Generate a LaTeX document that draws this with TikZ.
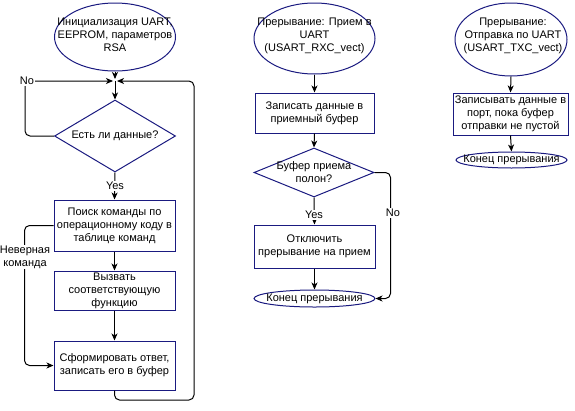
\documentclass[tikz,border=0pt]{standalone}
\usepackage{fontspec}
\setmainfont{Liberation Sans}
\usetikzlibrary{shapes.geometric,arrows.meta}
\definecolor{nav}{RGB}{26,26,128}
\begin{document}
\begin{tikzpicture}[x=1pt,y=-1pt,font=\fontsize{11}{13}\selectfont,
  box/.style={draw=nav,line width=1pt,rectangle,align=center,inner sep=0pt},
  ell/.style={draw=nav,line width=1pt,ellipse,inner sep=0pt},
  dia/.style={draw=nav,line width=1pt,diamond,inner sep=0pt},
  txt/.style={align=center,inner sep=0pt},
  lbl/.style={fill=white,inner sep=1pt,align=center},
  arr/.style={draw=black,line width=1pt,rounded corners=5pt,-{Stealth[length=7pt,width=6pt,inset=2pt]}}]
\useasboundingbox (0,0) rectangle (575,410);
% column 1
\node[ell,minimum width=121pt,minimum height=68pt] (e1) at (115,37) {};
\node[txt] (t1) at (115,35) {Инициализация UART,\\EEPROM, параметров\\RSA};
\coordinate (J) at (115,81);
\node[dia,minimum width=121pt,minimum height=72pt] (d1) at (115,136) {};
\node[txt] (t2) at (115,136) {Есть ли данные?};
\node[box,minimum width=121pt,minimum height=51pt] (b1) at (114.5,225.5) {Поиск команды по\\операционному коду в\\таблице команд};
\node[box,minimum width=121pt,minimum height=39pt] (b2) at (114.5,290.5) {Вызвать\\соответствующую\\функцию};
\node[box,minimum width=121pt,minimum height=49pt] (b3) at (114.5,365.5) {Сформировать ответ,\\записать его в буфер};
\coordinate (R) at (194,400);
\draw[arr,shorten >=2pt] (e1.south) -- (J);
\draw[arr] (J) -- (d1.north);
\draw[arr] (d1.south) -- (b1.north);
\node[lbl] (yes1) at (115,186) {Yes};
\draw[arr,shorten >=2pt] (d1.west) -- ++(-29,0) |- (J);
\node[lbl] (no1) at (27,81) {No};
\draw[arr] (b1) -- (b2);
\draw[arr] (b2) -- (b3);
\draw[arr] (b1.west) -- ++(-29,0) |- (b3.west);
\node[lbl] (nev) at (25,257) {Неверная\\команда};
\draw[arr,shorten >=2pt] (b3.south) |- (R) |- (J);
% column 2
\node[ell,minimum width=121pt,minimum height=71pt] (e2) at (314.5,38.5) {};
\node[txt] (t3) at (314.5,35.5) {Прерывание: Прием в\\UART\\(USART\_RXC\_vect)};
\node[box,minimum width=119pt,minimum height=40pt] (b4) at (314.5,113) {Записать данные в\\приемный буфер};
\node[dia,minimum width=120pt,minimum height=49pt] (d2) at (314,172.5) {};
\node[txt] (t4) at (314,172.5) {Буфер приема\\полон?};
\node[box,minimum width=121pt,minimum height=43pt] (b5) at (314.5,246.5) {Отключить\\прерывание на прием};
\node[ell,minimum width=121pt,minimum height=17pt] (x2) at (314.5,298.5) {};
\node[txt] (t5) at (314.5,298.5) {Конец прерывания};
\draw[arr] (e2.south) -- (b4.north);
\draw[arr] (b4.south) -- (d2.north);
\draw[arr] (d2.south) -- (b5.north);
\node[lbl] (yes2) at (314,215) {Yes};
\draw[arr] (b5.south) -- (x2.north);
\draw[arr] (d2.east) -- ++(16,0) |- (x2.east);
\node[lbl] (no2) at (393,213) {No};
% column 3
\node[ell,minimum width=112pt,minimum height=73pt] (e3) at (511,39.5) {};
\node[txt] (t6) at (513,36) {Прерывание:\\Отправка по UART\\(USART\_TXC\_vect)};
\node[box,minimum width=115pt,minimum height=42pt] (b6) at (510.5,114) {Записывать данные в\\порт, пока буфер\\отправки не пустой};
\node[ell,minimum width=111pt,minimum height=16pt] (x3) at (511.5,160) {};
\node[txt] (t7) at (511.5,160) {Конец прерывания};
\draw[arr] (e3.south) -- (b6.north);
\draw[arr] (b6.south) -- (x3.north);
\end{tikzpicture}
\end{document}
